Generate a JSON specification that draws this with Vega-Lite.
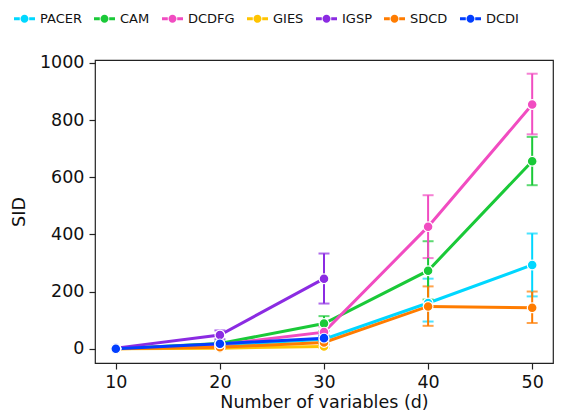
{
  "$schema": "https://vega.github.io/schema/vega-lite/v6.json",
  "autosize": "none",
  "width": 458,
  "height": 303,
  "padding": {"left": 95, "top": 60, "right": 15, "bottom": 54},
  "background": "white",
  "config": {
    "font": "DejaVu Sans",
    "view": {"stroke": "#222222", "strokeWidth": 1.2},
    "axis": {
      "domain": false,
      "grid": false,
      "tickColor": "#222222",
      "tickSize": 6,
      "tickWidth": 1.2,
      "labelFontSize": 17.5,
      "labelColor": "#111111",
      "titleFontSize": 17.5,
      "titleFontWeight": "normal",
      "titleColor": "#111111"
    }
  },
  "data": {
    "values": [
      {"d": 10, "method": "PACER", "sid": 0},
      {"d": 20, "method": "PACER", "sid": 12, "lo": 8, "hi": 16},
      {"d": 30, "method": "PACER", "sid": 33, "lo": 25, "hi": 42},
      {"d": 40, "method": "PACER", "sid": 160, "lo": 95, "hi": 245},
      {"d": 50, "method": "PACER", "sid": 293, "lo": 183, "hi": 403},
      {"d": 10, "method": "CAM", "sid": 0},
      {"d": 20, "method": "CAM", "sid": 18, "lo": 12, "hi": 25},
      {"d": 30, "method": "CAM", "sid": 88, "lo": 62, "hi": 114},
      {"d": 40, "method": "CAM", "sid": 273, "lo": 172, "hi": 376},
      {"d": 50, "method": "CAM", "sid": 656, "lo": 572, "hi": 741},
      {"d": 10, "method": "DCDFG", "sid": 0},
      {"d": 20, "method": "DCDFG", "sid": 14, "lo": 8, "hi": 20},
      {"d": 30, "method": "DCDFG", "sid": 58, "lo": 40, "hi": 78},
      {"d": 40, "method": "DCDFG", "sid": 427, "lo": 317, "hi": 537},
      {"d": 50, "method": "DCDFG", "sid": 854, "lo": 750, "hi": 962},
      {"d": 10, "method": "GIES", "sid": 0},
      {"d": 20, "method": "GIES", "sid": 2, "lo": 0, "hi": 5},
      {"d": 30, "method": "GIES", "sid": 8, "lo": 2, "hi": 15},
      {"d": 10, "method": "IGSP", "sid": 2},
      {"d": 20, "method": "IGSP", "sid": 48, "lo": 33, "hi": 64},
      {"d": 30, "method": "IGSP", "sid": 245, "lo": 158, "hi": 333},
      {"d": 10, "method": "SDCD", "sid": 0},
      {"d": 20, "method": "SDCD", "sid": 5, "lo": 2, "hi": 9},
      {"d": 30, "method": "SDCD", "sid": 22, "lo": 14, "hi": 30},
      {"d": 40, "method": "SDCD", "sid": 148, "lo": 80, "hi": 218},
      {"d": 50, "method": "SDCD", "sid": 143, "lo": 90, "hi": 200},
      {"d": 10, "method": "DCDI", "sid": 0},
      {"d": 20, "method": "DCDI", "sid": 17, "lo": 12, "hi": 22},
      {"d": 30, "method": "DCDI", "sid": 37, "lo": 28, "hi": 46}
    ]
  },
  "encoding": {
    "x": {
      "field": "d",
      "type": "quantitative",
      "scale": {"domain": [8, 52], "nice": false, "zero": false},
      "axis": {"values": [10, 20, 30, 40, 50], "title": "Number of variables (d)", "labelPadding": 4, "titlePadding": 3}
    },
    "color": {
      "field": "method",
      "type": "nominal",
      "scale": {
        "domain": ["PACER", "CAM", "DCDFG", "GIES", "IGSP", "SDCD", "DCDI"],
        "range": ["#00d7ff", "#1ac938", "#f14cc1", "#ffc400", "#8b2be2", "#ff7c00", "#023eff"]
      },
      "legend": {
        "title": null,
        "orient": "none",
        "direction": "horizontal",
        "legendX": -81,
        "legendY": -52,
        "padding": 0,
        "labelFontSize": 13,
        "labelColor": "#111111",
        "labelOffset": 5,
        "columnPadding": 12,
        "symbolSize": 441,
        "symbolStrokeWidth": 0,
        "symbolOpacity": 1,
        "symbolType": "M-1,-0.14 H-0.45 V0.14 H-1 Z M0.45,-0.14 H1 V0.14 H0.45 Z M-0.38,0 A0.38,0.38 0 1,0 0.38,0 A0.38,0.38 0 1,0 -0.38,0 Z"
      }
    }
  },
  "layer": [
    {
      "mark": {"type": "line", "strokeWidth": 3},
      "encoding": {
        "y": {
          "field": "sid",
          "type": "quantitative",
          "title": "SID",
          "scale": {"domain": [-50, 1010], "nice": false, "zero": false},
          "axis": {"values": [0, 200, 400, 600, 800, 1000], "format": "d", "title": "SID", "labelPadding": 5, "titlePadding": 11}
        }
      }
    },
    {
      "transform": [{"filter": "isValid(datum.lo)"}],
      "mark": {"type": "errorbar", "ticks": {"size": 11, "thickness": 2}, "rule": {"strokeWidth": 2}},
      "encoding": {
        "y": {"field": "lo", "type": "quantitative", "title": "SID"},
        "y2": {"field": "hi"}
      }
    },
    {
      "mark": {"type": "point", "shape": "circle", "filled": true, "size": 95, "stroke": "white", "strokeWidth": 1.2, "opacity": 1},
      "encoding": {
        "y": {"field": "sid", "type": "quantitative", "title": "SID"}
      }
    }
  ]
}
